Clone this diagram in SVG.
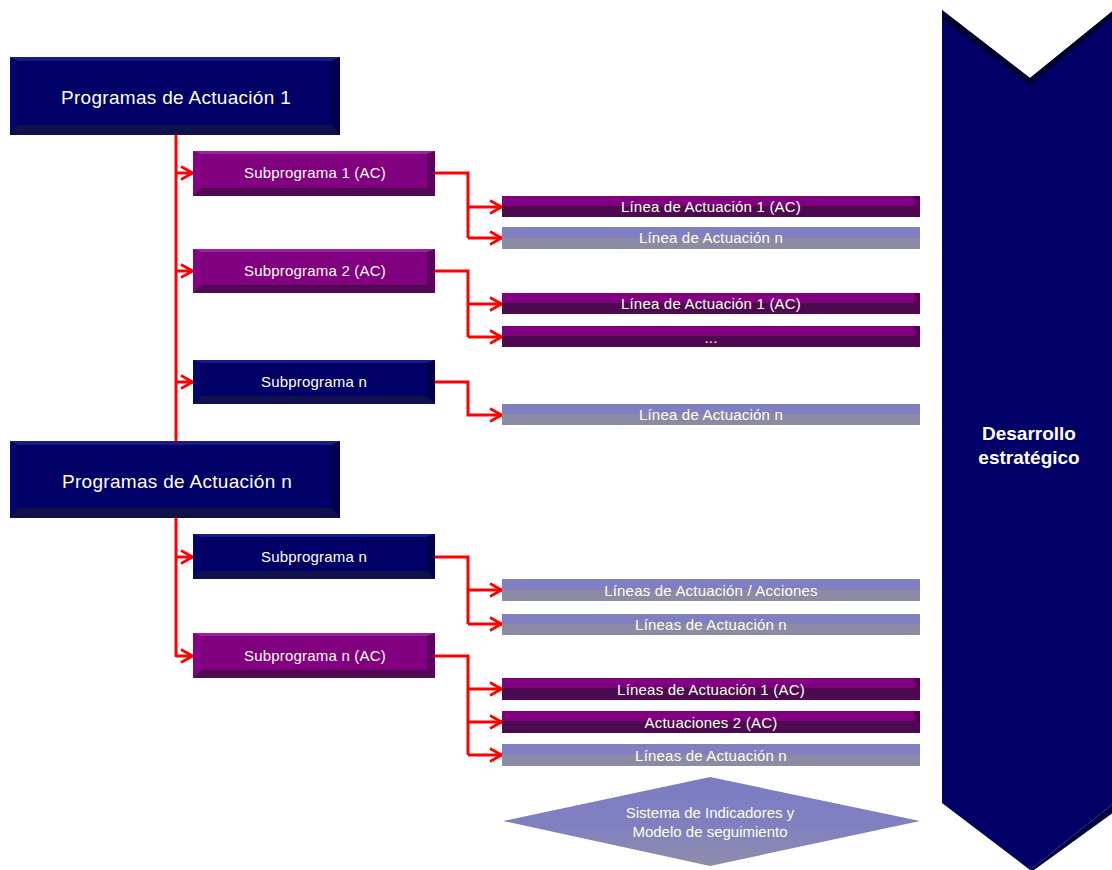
<svg xmlns="http://www.w3.org/2000/svg" width="1112" height="870" viewBox="0 0 1112 870">
<defs>
<style>
.t{font-family:"Liberation Sans",Arial,sans-serif;fill:#fffff0;text-anchor:middle}
.big{font-size:19px;letter-spacing:0.3px}
.sub{font-size:15px;letter-spacing:0.2px}
.ln{font-size:15px;letter-spacing:0.2px}
.con{fill:none;stroke:#ff0000;stroke-width:3}
</style>
<marker id="ah" viewBox="0 0 14 16" refX="13" refY="8" markerWidth="14" markerHeight="16" markerUnits="userSpaceOnUse" orient="auto">
<path d="M1,1.5 L12.5,8 L1,14.5" fill="none" stroke="#ff0000" stroke-width="2.6"/>
</marker>
<linearGradient id="dg" x1="0" y1="0" x2="0" y2="1">
<stop offset="0" stop-color="#7c7cc4"/>
<stop offset="0.55" stop-color="#8080c0"/>
<stop offset="1" stop-color="#8e8eaa"/>
</linearGradient>
</defs>

<g id="chevron">
<polygon points="942,10 1030,78 1114,10 1114,803 1030,870 942,803" fill="#000066"/>
<polygon points="942,10 1030,78 1114,10 1114,16 1030,85 942,19" fill="#00002e"/>
<polygon points="1030,870 1114,803 1114,812 1034,870" fill="#000040"/>
<text class="t" x="1029" y="440" style="font-size:19px;font-weight:bold;fill:#ffffff">Desarrollo</text>
<text class="t" x="1029" y="464" style="font-size:19px;font-weight:bold;fill:#ffffff">estratégico</text>
</g>

<g id="connectors">
<path class="con" d="M176,135 V441 M176,518 V657"/>
<path class="con" d="M176,173 H193" marker-end="url(#ah)"/>
<path class="con" d="M176,271 H193" marker-end="url(#ah)"/>
<path class="con" d="M176,382 H193" marker-end="url(#ah)"/>
<path class="con" d="M176,557 H193" marker-end="url(#ah)"/>
<path class="con" d="M176,656 H193" marker-end="url(#ah)"/>
<path class="con" d="M435,173 H468 V238"/>
<path class="con" d="M468,207 H502" marker-end="url(#ah)"/>
<path class="con" d="M468,238 H502" marker-end="url(#ah)"/>
<path class="con" d="M435,271 H468 V337"/>
<path class="con" d="M468,304 H502" marker-end="url(#ah)"/>
<path class="con" d="M468,337 H502" marker-end="url(#ah)"/>
<path class="con" d="M435,382 H468 V415 H502" marker-end="url(#ah)"/>
<path class="con" d="M435,557 H468 V624"/>
<path class="con" d="M468,590 H502" marker-end="url(#ah)"/>
<path class="con" d="M468,624 H502" marker-end="url(#ah)"/>
<path class="con" d="M435,656 H468 V755"/>
<path class="con" d="M468,689 H502" marker-end="url(#ah)"/>
<path class="con" d="M468,722 H502" marker-end="url(#ah)"/>
<path class="con" d="M468,755 H502" marker-end="url(#ah)"/>
</g>

<g id="prog1">
<rect x="10" y="57" width="330" height="78" fill="#000066"/>
<polygon points="10,57 340,57 332,61 18,61" fill="#1a1a82"/>
<polygon points="10,57 18,61 18,125 10,135" fill="#05056e"/>
<polygon points="340,57 340,135 332,125 332,61" fill="#00004a"/>
<polygon points="10,135 18,125 332,125 340,135" fill="#10104a"/>
<text class="t big" x="176" y="104">Programas de Actuación 1</text>
</g>

<g id="sub1">
<rect x="193" y="151" width="242" height="45" fill="#800080"/>
<polygon points="193,151 435,151 427,154 201,154" fill="#9a259a"/>
<polygon points="193,151 201,154 201,188 193,196" fill="#880088"/>
<polygon points="435,151 435,196 427,188 427,154" fill="#5e005e"/>
<polygon points="193,196 201,188 427,188 435,196" fill="#4f0b52"/>
<text class="t sub" x="315" y="178">Subprograma 1 (AC)</text>
</g>

<g id="l1a">
<rect x="502" y="196" width="418" height="21" fill="#4d0a50"/>
<rect x="502" y="196" width="418" height="10" fill="#800080"/>
<polygon points="914,196 920,196 920,217 914,206" fill="#5a005a"/>
<text class="t ln" x="711" y="212">Línea de Actuación 1 (AC)</text>
</g>
<g id="l1n">
<rect x="502" y="227" width="418" height="22" fill="#8b8ba6"/>
<rect x="502" y="227" width="418" height="11" fill="#8080c0"/>
<text class="t ln" x="711" y="243">Línea de Actuación n</text>
</g>

<g id="sub2">
<rect x="193" y="249" width="242" height="44" fill="#800080"/>
<polygon points="193,249 435,249 427,252 201,252" fill="#9a259a"/>
<polygon points="193,249 201,252 201,285 193,293" fill="#880088"/>
<polygon points="435,249 435,293 427,285 427,252" fill="#5e005e"/>
<polygon points="193,293 201,285 427,285 435,293" fill="#4f0b52"/>
<text class="t sub" x="315" y="276">Subprograma 2 (AC)</text>
</g>

<g id="l2a">
<rect x="502" y="293" width="418" height="21" fill="#4d0a50"/>
<rect x="502" y="293" width="418" height="10" fill="#800080"/>
<polygon points="914,293 920,293 920,314 914,303" fill="#5a005a"/>
<text class="t ln" x="711" y="309">Línea de Actuación 1 (AC)</text>
</g>
<g id="l2b">
<rect x="502" y="326" width="418" height="21" fill="#4d0a50"/>
<rect x="502" y="326" width="418" height="10" fill="#800080"/>
<polygon points="914,326 920,326 920,347 914,336" fill="#5a005a"/>
<text class="t ln" x="711" y="343">...</text>
</g>

<g id="sub3">
<rect x="193" y="360" width="242" height="44" fill="#000066"/>
<polygon points="193,360 435,360 427,363 201,363" fill="#1a1a82"/>
<polygon points="193,360 201,363 201,396 193,404" fill="#05056e"/>
<polygon points="435,360 435,404 427,396 427,363" fill="#00004a"/>
<polygon points="193,404 201,396 427,396 435,404" fill="#10104a"/>
<text class="t sub" x="314" y="387">Subprograma n</text>
</g>

<g id="l3n">
<rect x="502" y="404" width="418" height="21" fill="#8b8ba6"/>
<rect x="502" y="404" width="418" height="10" fill="#8080c0"/>
<text class="t ln" x="711" y="420">Línea de Actuación n</text>
</g>

<g id="progn">
<rect x="10" y="441" width="330" height="77" fill="#000066"/>
<polygon points="10,441 340,441 332,445 18,445" fill="#1a1a82"/>
<polygon points="10,441 18,445 18,508 10,518" fill="#05056e"/>
<polygon points="340,441 340,518 332,508 332,445" fill="#00004a"/>
<polygon points="10,518 18,508 332,508 340,518" fill="#10104a"/>
<text class="t big" x="177" y="488">Programas de Actuación n</text>
</g>

<g id="sub4">
<rect x="193" y="534" width="242" height="45" fill="#000066"/>
<polygon points="193,534 435,534 427,537 201,537" fill="#1a1a82"/>
<polygon points="193,534 201,537 201,571 193,579" fill="#05056e"/>
<polygon points="435,534 435,579 427,571 427,537" fill="#00004a"/>
<polygon points="193,579 201,571 427,571 435,579" fill="#10104a"/>
<text class="t sub" x="314" y="562">Subprograma n</text>
</g>

<g id="l4a">
<rect x="502" y="579" width="418" height="22" fill="#8b8ba6"/>
<rect x="502" y="579" width="418" height="11" fill="#8080c0"/>
<text class="t ln" x="711" y="596">Líneas de Actuación / Acciones</text>
</g>
<g id="l4n">
<rect x="502" y="614" width="418" height="21" fill="#8b8ba6"/>
<rect x="502" y="614" width="418" height="10" fill="#8080c0"/>
<text class="t ln" x="711" y="630">Líneas de Actuación n</text>
</g>

<g id="sub5">
<rect x="193" y="633" width="242" height="45" fill="#800080"/>
<polygon points="193,633 435,633 427,636 201,636" fill="#9a259a"/>
<polygon points="193,633 201,636 201,670 193,678" fill="#880088"/>
<polygon points="435,633 435,678 427,670 427,636" fill="#5e005e"/>
<polygon points="193,678 201,670 427,670 435,678" fill="#4f0b52"/>
<text class="t sub" x="315" y="661">Subprograma n (AC)</text>
</g>

<g id="l5a">
<rect x="502" y="678" width="418" height="22" fill="#4d0a50"/>
<rect x="502" y="678" width="418" height="10" fill="#800080"/>
<polygon points="914,678 920,678 920,700 914,688" fill="#5a005a"/>
<text class="t ln" x="711" y="695">Líneas de Actuación 1 (AC)</text>
</g>
<g id="l5b">
<rect x="502" y="711" width="418" height="22" fill="#4d0a50"/>
<rect x="502" y="711" width="418" height="10" fill="#800080"/>
<polygon points="914,711 920,711 920,733 914,721" fill="#5a005a"/>
<text class="t ln" x="711" y="728">Actuaciones 2 (AC)</text>
</g>
<g id="l5n">
<rect x="502" y="744" width="418" height="22" fill="#8b8ba6"/>
<rect x="502" y="744" width="418" height="11" fill="#8080c0"/>
<text class="t ln" x="711" y="761">Líneas de Actuación n</text>
</g>

<g id="diamond">
<polygon points="503,821 710,777 920,821 710,866" fill="url(#dg)"/>
<text class="t" x="710" y="818" style="font-size:15px">Sistema de Indicadores y</text>
<text class="t" x="710" y="837" style="font-size:15px">Modelo de seguimiento</text>
</g>
</svg>
